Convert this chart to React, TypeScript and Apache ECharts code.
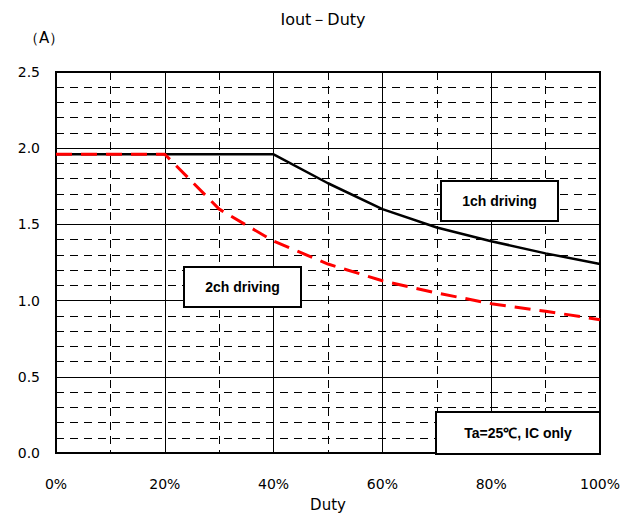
import React, { useEffect, useRef } from "react";
import * as echarts from "echarts";

const duty = [0, 10, 20, 30, 40, 50, 60, 70, 80, 90, 100];
const iout1ch = [1.96, 1.96, 1.96, 1.96, 1.96, 1.77, 1.6, 1.48, 1.39, 1.31, 1.24];
const iout2ch = [1.96, 1.96, 1.96, 1.6, 1.39, 1.24, 1.13, 1.05, 0.98, 0.93, 0.875];
const xTickLabels = ["0%", "20%", "40%", "60%", "80%", "100%"];
const yTickLabels = ["0.0", "0.5", "1.0", "1.5", "2.0", "2.5"];

const FONT = "DejaVu Sans";

function box(x: number, y: number, w: number, h: number, text: string) {
  return [
    {
      type: "rect",
      z: 100,
      zlevel: 0,
      shape: { x, y, width: w, height: h },
      style: { fill: "#ffffff", stroke: "#000", lineWidth: 2 },
    },
    {
      type: "text",
      z: 101,
      x: x + w / 2,
      y: y + h / 2,
      style: {
        text,
        fill: "#000",
        fontFamily: "Liberation Sans",
        fontWeight: "bold",
        fontSize: 14,
        align: "center",
        verticalAlign: "middle",
      },
    },
  ];
}

export default function App() {
  const ref = useRef<HTMLDivElement>(null);
  useEffect(() => {
    if (!ref.current) return;
    const chart = echarts.init(ref.current, undefined, { renderer: "svg" });
    chart.setOption({
      animation: false,
      backgroundColor: "#fff",
      title: {
        text: "Iout－Duty",
        left: 318,
        textAlign: "center",
        top: 6,
        textStyle: { fontFamily: FONT, fontSize: 16, fontWeight: "normal", color: "#000" },
      },
      grid: {
        left: 56,
        right: 37,
        top: 72,
        bottom: 62,
        show: true,
        borderColor: "#000",
        borderWidth: 2,
        backgroundColor: "transparent",
      },
      xAxis: {
        type: "value",
        min: 0,
        max: 100,
        interval: 20,
        name: "Duty",
        nameLocation: "middle",
        nameGap: 44,
        nameTextStyle: { fontFamily: FONT, fontSize: 15, color: "#000" },
        axisLine: { show: true, lineStyle: { color: "#000", width: 2 } },
        axisTick: { show: false },
        axisLabel: {
          margin: 24,
          fontFamily: FONT,
          fontSize: 14,
          color: "#000",
          formatter: (v: number) => xTickLabels[Math.round(v / 20)] ?? "",
        },
        splitLine: { show: true, lineStyle: { color: "#000", width: 1, type: "solid" } },
        minorTick: { show: false, splitNumber: 2 },
        minorSplitLine: {
          show: true,
          lineStyle: { color: "#000", width: 1, type: [8, 6] },
        },
      },
      yAxis: {
        type: "value",
        min: 0,
        max: 2.5,
        interval: 0.5,
        axisLine: { show: true, lineStyle: { color: "#000", width: 2 } },
        axisTick: { show: false },
        axisLabel: {
          margin: 16,
          fontFamily: FONT,
          fontSize: 14,
          color: "#000",
          formatter: (v: number) => yTickLabels[Math.round(v / 0.5)] ?? "",
        },
        splitLine: { show: true, lineStyle: { color: "#000", width: 1, type: "solid" } },
        minorTick: { show: false, splitNumber: 5 },
        minorSplitLine: {
          show: true,
          lineStyle: { color: "#000", width: 1, type: [8, 6] },
        },
      },
      series: [
        {
          name: "1ch driving",
          type: "line",
          data: duty.map((d, i) => [d, iout1ch[i]]),
          showSymbol: false,
          lineStyle: { color: "#000", width: 2.5 },
          z: 3,
        },
        {
          name: "2ch driving",
          type: "line",
          data: duty.map((d, i) => [d, iout2ch[i]]),
          showSymbol: false,
          lineStyle: { color: "#ff0000", width: 3, type: [16, 9] },
          z: 4,
        },
      ],
      graphic: [
        {
          type: "text",
          left: 24,
          top: 30,
          style: { text: "（A）", fill: "#000", fontFamily: FONT, fontSize: 15 },
        },
        ...box(441, 181, 117, 40, "1ch driving"),
        ...box(184, 267, 117, 40, "2ch driving"),
        ...box(436, 412, 164, 42, "Ta=25℃, IC only"),
      ],
    });
    return () => chart.dispose();
  }, []);
  return (
    <div
      ref={ref}
      style={{ position: "fixed", left: 0, top: 0, width: 637, height: 517 }}
    />
  );
}
